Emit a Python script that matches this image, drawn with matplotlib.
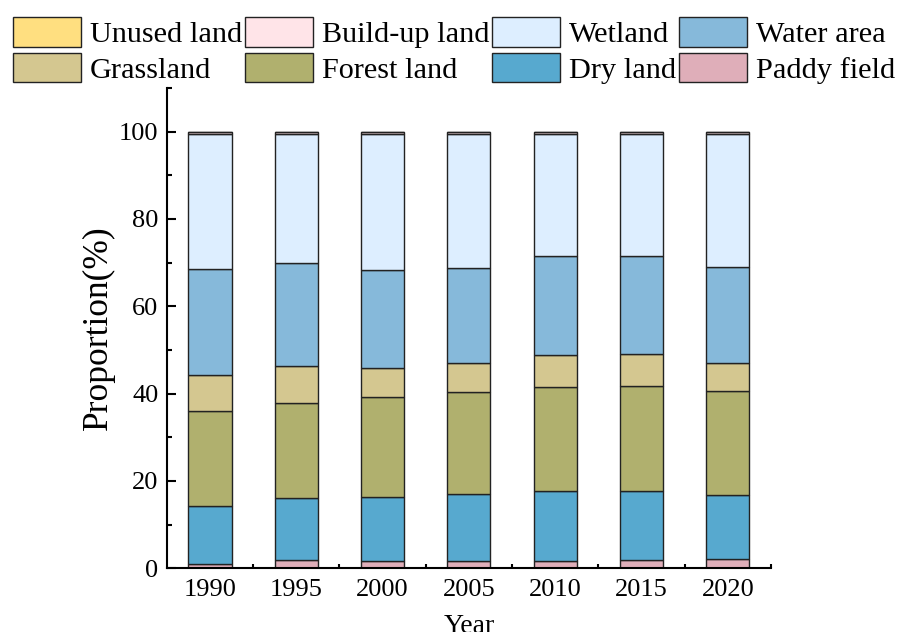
import numpy as np
import matplotlib
matplotlib.use("Agg")
import matplotlib.pyplot as plt
from matplotlib.ticker import MultipleLocator, FixedLocator

plt.rcParams["font.family"] = ["Liberation Serif", "DejaVu Serif"]

years = ["1990", "1995", "2000", "2005", "2010", "2015", "2020"]

# land-use shares (%), stacked bottom to top
paddy_field = [1.0, 1.8, 1.7, 1.6, 1.6, 1.8, 2.0]
dry_land = [13.3, 14.2, 14.7, 15.4, 16.0, 15.9, 14.8]
forest_land = [21.6, 21.8, 22.9, 23.3, 24.0, 24.0, 23.7]
grassland = [8.4, 8.4, 6.6, 6.7, 7.2, 7.3, 6.4]
water_area = [24.2, 23.7, 22.4, 21.7, 22.6, 22.6, 22.1]
wetland = [31.0, 29.6, 31.2, 30.8, 28.1, 27.9, 30.5]
buildup_land = [0.4, 0.4, 0.4, 0.4, 0.4, 0.4, 0.4]
unused_land = [0.1, 0.1, 0.1, 0.1, 0.1, 0.1, 0.1]

layers = [
    ("Paddy field", paddy_field, "#dfaeb9"),
    ("Dry land", dry_land, "#57a9cf"),
    ("Forest land", forest_land, "#b0b06e"),
    ("Grassland", grassland, "#d4c790"),
    ("Water area", water_area, "#86b9da"),
    ("Wetland", wetland, "#ddeeff"),
    ("Build-up land", buildup_land, "#ffe4e8"),
    ("Unused land", unused_land, "#ffdf80"),
]

fig = plt.figure(figsize=(8.97, 6.32), dpi=100)
ax = fig.add_axes([0.186, 0.101, 0.6735, 0.760])

x = np.arange(len(years))
bottom = np.zeros(len(years))
handles = {}
for name, vals, color in layers:
    b = ax.bar(x, vals, width=0.5, bottom=bottom, color=color,
               edgecolor="#222222", linewidth=1.0, label=name)
    handles[name] = b
    bottom += np.array(vals)

ax.set_xlim(-0.5, 6.5)
ax.set_ylim(0, 110)

ax.spines["top"].set_visible(False)
ax.spines["right"].set_visible(False)
for s in ("left", "bottom"):
    ax.spines[s].set_linewidth(1.5)

ax.set_xticks(x)
ax.set_xticklabels(years)
ax.xaxis.set_minor_locator(FixedLocator(np.arange(0.5, 7, 1.0)))
ax.tick_params(axis="x", which="major", length=0, pad=8, labelsize=19)
ax.tick_params(axis="x", which="minor", direction="in", length=3, width=1.5)

ax.yaxis.set_major_locator(MultipleLocator(20))
ax.yaxis.set_minor_locator(MultipleLocator(10))
ax.tick_params(axis="y", which="major", direction="in", length=6.5, width=1.5,
               pad=6, labelsize=19)
ax.tick_params(axis="y", which="minor", direction="in", length=3.5, width=1.5)
ax.set_yticks([0, 20, 40, 60, 80, 100])

ax.set_ylabel("Proportion(%)", fontsize=25.5, labelpad=3)
ax.set_xlabel("Year", fontsize=20, labelpad=9)

order = ["Unused land", "Build-up land", "Wetland", "Water area",
         "Grassland", "Forest land", "Dry land", "Paddy field"]
# legend fills column by column, so interleave the two rows
cols = [order[i::4] for i in range(4)]
seq = [name for c in cols for name in c]
fig.legend([handles[n] for n in seq], seq, loc="upper left",
           bbox_to_anchor=(0.014, 0.973), ncol=4, frameon=False,
           fontsize=21.8, borderpad=0, borderaxespad=0,
           handlelength=2.25, handleheight=1.12, handletextpad=0.3,
           columnspacing=0.09, labelspacing=0.15)

fig.savefig("out.png", dpi=100)
